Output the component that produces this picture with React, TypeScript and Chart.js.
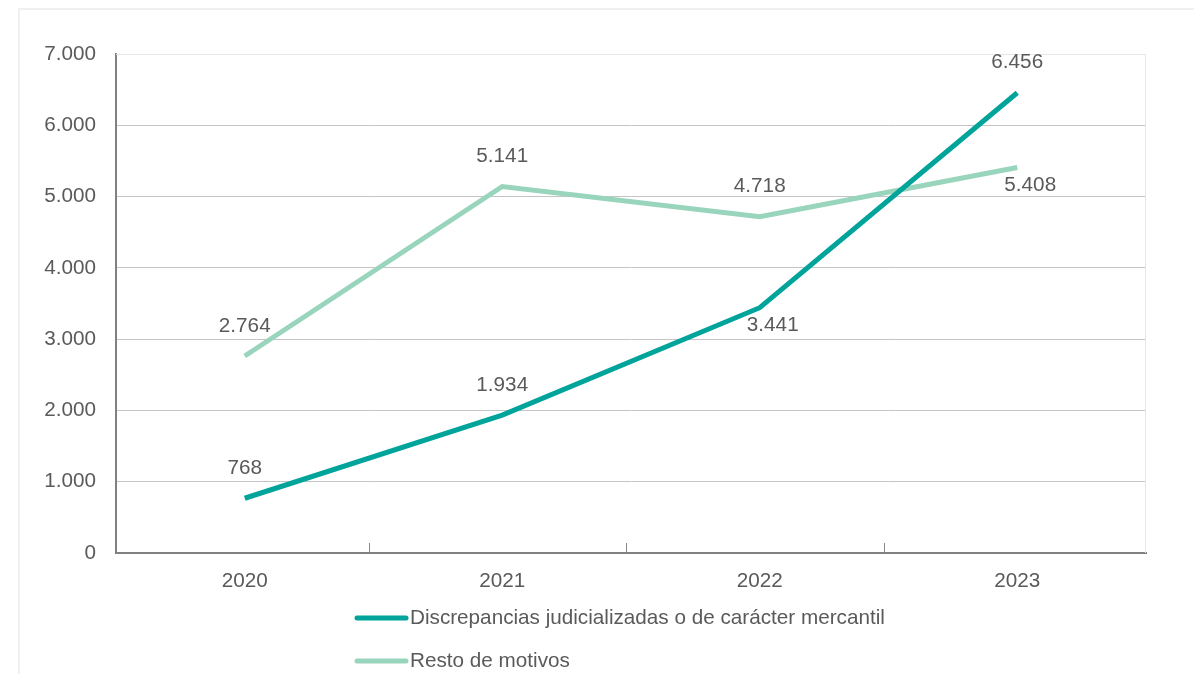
import React, { useEffect, useRef } from "react";
import { Chart, registerables } from "chart.js";

Chart.register(...registerables);

const categories = ["2020", "2021", "2022", "2023"];
const mercantilValues = [768, 1934, 3441, 6456];
const restoValues = [2764, 5141, 4718, 5408];
const seriesLabels = [
  "Discrepancias judicializadas o de carácter mercantil",
  "Resto de motivos",
];
const mercantilLabelSide = ["above", "above", "below", "above"];
const restoLabelSide = ["above", "above", "above", "below"];

const DARK = "#00a49a";
const LIGHT = "#98d5bc";
const TEXT = "#5a5a5a";
const FONT = "'Liberation Sans', Arial, sans-serif";
const FONT_SIZE = 20.7;

function fmt(v: number): string {
  return v.toLocaleString("de-DE");
}

const overlayPlugin = {
  id: "overlay",
  afterDraw(chart: any) {
    const ctx = chart.ctx;
    const area = chart.chartArea;
    const x = chart.scales.x;
    ctx.save();
    // plot frame (top and right light border)
    ctx.strokeStyle = "#e6e6e6";
    ctx.lineWidth = 1;
    ctx.beginPath();
    ctx.moveTo(area.left, area.top + 0.5);
    ctx.lineTo(area.right - 0.5, area.top + 0.5);
    ctx.lineTo(area.right - 0.5, area.bottom);
    ctx.stroke();
    // category boundary tick marks (pointing up)
    const step = x.getPixelForValue(1) - x.getPixelForValue(0);
    for (let i = 0; i < categories.length - 1; i++) {
      const px = Math.round(x.getPixelForValue(i) + step / 2 - 5) + 0.5;
      ctx.strokeStyle = "#888888";
      ctx.lineWidth = 1;
      ctx.beginPath();
      ctx.moveTo(px, area.bottom);
      ctx.lineTo(px, area.bottom - 10);
      ctx.stroke();
    }
    // data labels
    ctx.font = `${FONT_SIZE}px ${FONT}`;
    ctx.fillStyle = TEXT;
    ctx.textAlign = "center";
    ctx.textBaseline = "middle";
    const sides = [mercantilLabelSide, restoLabelSide];
    chart.data.datasets.forEach((ds: any, di: number) => {
      const meta = chart.getDatasetMeta(di);
      meta.data.forEach((pt: any, i: number) => {
        const below = sides[di][i] === "below";
        const lx = pt.x + (below ? 13 : 0);
        const ly = pt.y + (below ? 18 : -30);
        ctx.fillText(fmt(ds.data[i]), lx, ly);
      });
    });
    // legend (vertical)
    const legendX = 355;
    const legendYs = [618, 661];
    chart.data.datasets.forEach((ds: any, di: number) => {
      const y = legendYs[di];
      ctx.strokeStyle = ds.borderColor;
      ctx.lineWidth = 5;
      ctx.lineCap = "round";
      ctx.beginPath();
      ctx.moveTo(legendX + 2, y);
      ctx.lineTo(legendX + 51, y);
      ctx.stroke();
      ctx.textAlign = "left";
      ctx.fillStyle = TEXT;
      ctx.fillText(ds.label, legendX + 55, y);
    });
    ctx.restore();
  },
};

export default function App() {
  const ref = useRef<HTMLCanvasElement | null>(null);
  useEffect(() => {
    if (!ref.current) return;
    const chart = new Chart(ref.current, {
      type: "line",
      data: {
        labels: categories,
        datasets: [
          {
            label: seriesLabels[0],
            data: mercantilValues,
            borderColor: DARK,
            backgroundColor: DARK,
            borderWidth: 5,
            pointRadius: 0,
            tension: 0,
          },
          {
            label: seriesLabels[1],
            data: restoValues,
            borderColor: LIGHT,
            backgroundColor: LIGHT,
            borderWidth: 5,
            pointRadius: 0,
            tension: 0,
          },
        ],
      },
      options: {
        animation: false,
        responsive: false,
        maintainAspectRatio: false,
        layout: { padding: { left: 0, right: 48, top: 54, bottom: 0 } },
        plugins: {
          legend: { display: false },
          tooltip: { enabled: false },
        },
        scales: {
          x: {
            offset: true,
            grid: { display: false, offset: true },
            border: { display: true, color: "#808080", width: 2 },
            ticks: {
              color: TEXT,
              font: { size: FONT_SIZE, family: FONT },
              padding: 8,
            },
            afterFit: (s: any) => {
              s.height = 121;
            },
          },
          y: {
            min: 0,
            max: 7000,
            ticks: {
              stepSize: 1000,
              color: TEXT,
              font: { size: FONT_SIZE, family: FONT },
              padding: 20,
              callback: (v: any) => fmt(Number(v)),
            },
            grid: {
              color: (c: any) => (c.tick && c.tick.value === 7000 ? "#e6e6e6" : "#c4c4c4"),
              drawTicks: false,
              lineWidth: 1,
            },
            border: { display: true, color: "#808080", width: 2 },
            afterFit: (s: any) => {
              s.width = 116;
            },
          },
        },
      },
      plugins: [overlayPlugin],
    });
    return () => chart.destroy();
  }, []);
  return (
    <div style={{ position: "fixed", left: 0, top: 0, width: 1194, height: 674, background: "#fff" }}>
      <div
        style={{
          position: "absolute",
          left: 18,
          top: 8,
          width: 1200,
          height: 700,
          border: "2px solid #f0f0f0",
        }}
      />
      <canvas ref={ref} width={1194} height={674} style={{ position: "absolute", left: 0, top: 0 }} />
    </div>
  );
}
